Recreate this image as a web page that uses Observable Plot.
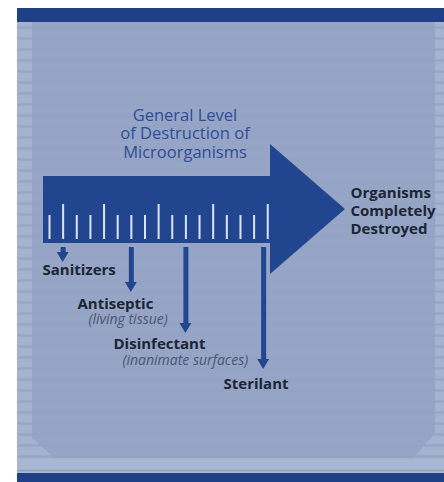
<!DOCTYPE html>
<html><head><meta charset="utf-8">
<script src="https://cdn.jsdelivr.net/npm/d3@7"></script>
<script src="https://cdn.jsdelivr.net/npm/@observablehq/plot@0.6"></script>
<style>html,body{margin:0;padding:0;background:#fff;} svg{display:block}</style>
</head><body><div id="chart"></div>
<script>
// ---- data ----
const titleLines = ["General Level", "of Destruction of", "Microorganisms"];
const endLines = ["Organisms", "Completely", "Destroyed"];
const tickLevels = [0,1,2,3,4,5,6,7,8,9,10,11,12,13,14,15,16];
const majorTicks = [1,4,8,12,16];
const agents = ["Sanitizers", "Antiseptic", "Disinfectant", "Sterilant"];
const agentNotes = ["", "(living tissue)", "(inanimate surfaces)", ""];
const agentLevels = [1, 6, 10, 15.7];

// ---- layout (pixel geometry) ----
const W = 444, H = 482;
const lvl = l => 49 + l * 13.64;
const tipY = [262, 292, 333, 369];
const labelX = [42, 77, 113, 223], labelY = [274, 308, 348, 388];
const noteX = [0, 88, 122, 0], noteY = [0, 323, 364, 0];
const navy = "#1f3f87", arrowC = "#21468f";

const stripes = d3.range(27, 470, 11).map(y => ({y}));
const panel = [
  {x: 32, y1: 22, y2: 438},
  {x: 55, y1: 22, y2: 458},
  {x: 413, y1: 22, y2: 458},
  {x: 435, y1: 22, y2: 433}
];
const head = [{x: 270, y1: 144, y2: 274}, {x: 345, y1: 209, y2: 209}];
const ticks = tickLevels.map(t => ({x: lvl(t), top: majorTicks.includes(t) ? 204 : 215}));
const downs = agents.map((a, i) => ({name: a, x: lvl(agentLevels[i]), tip: tipY[i]}));
const heads = downs.flatMap(d => [
  {z: d.name, x: d.x - 6, y1: d.tip - 10, y2: d.tip - 10},
  {z: d.name, x: d.x, y1: d.tip - 10, y2: d.tip},
  {z: d.name, x: d.x + 6, y1: d.tip - 10, y2: d.tip - 10}
]);
const labels = agents.map((a, i) => ({t: a, x: labelX[i], y: labelY[i]}));
const notes = agentNotes.map((n, i) => ({t: n, x: noteX[i], y: noteY[i]})).filter(d => d.t);

const font = "Open Sans";
const chart = Plot.plot({
  width: W, height: H, margin: 0,
  x: {domain: [0, W], range: [0, W], axis: null},
  y: {domain: [0, H], range: [0, H], axis: null},
  marks: [
    Plot.rect([{}], {x1: 17, x2: W, y1: 8, y2: H, fill: "#a5b3d1"}),
    Plot.ruleY(stripes, {y: "y", x1: 17, x2: W, stroke: "#8b9aba", strokeWidth: 2.5, strokeOpacity: 0.5}),
    Plot.areaY(panel, {x: "x", y1: "y1", y2: "y2", curve: "linear", fill: "#95a4c4", fillOpacity: 0.94}),
    Plot.rect([{}], {x1: 17, x2: W, y1: 459, y2: 473, fill: "#a9b7d4"}),
    Plot.ruleY([470], {x1: 17, x2: W, stroke: "#92a1c0", strokeWidth: 1.5}),
    Plot.rect([{}], {x1: 17, x2: W, y1: 8, y2: 22, fill: navy}),
    Plot.rect([{}], {x1: 17, x2: W, y1: 473, y2: H, fill: navy}),
    // main arrow
    Plot.rect([{}], {x1: 43, x2: 271, y1: 176, y2: 243, fill: arrowC}),
    Plot.areaY(head, {x: "x", y1: "y1", y2: "y2", curve: "linear", fill: arrowC}),
    Plot.ruleX(ticks, {x: "x", y1: "top", y2: 239, stroke: "#dde4f2", strokeWidth: 2}),
    // down arrows
    Plot.ruleX(downs, {x: "x", y1: 247, y2: d => d.tip - 9, stroke: arrowC, strokeWidth: 5}),
    Plot.areaY(heads, {x: "x", y1: "y1", y2: "y2", z: "z", curve: "linear", fill: arrowC}),
    // texts
    Plot.text([titleLines.join("\n")], {x: 184.5, y: 157, text: d => d, lineAnchor: "bottom", lineHeight: 1.1,
      fontFamily: font, fontSize: 16.5, fill: "#2e4d97", textAnchor: "middle"}),
    Plot.text([endLines.join("\n")], {x: 350, y: 233, text: d => d, lineAnchor: "bottom", lineHeight: 1.17,
      fontFamily: font, fontSize: 15, fontWeight: "bold", fill: "#1c2535", textAnchor: "start"}),
    Plot.text(labels, {x: "x", y: "y", text: "t", lineAnchor: "bottom", fontFamily: font, fontSize: 15,
      fontWeight: "bold", fill: "#1c2535", textAnchor: "start"}),
    Plot.text(notes, {x: "x", y: "y", text: "t", lineAnchor: "bottom", fontFamily: font, fontSize: 14,
      fontStyle: "italic", fill: "#4b5670", textAnchor: "start"})
  ]
});
document.getElementById("chart").appendChild(chart);
</script>
</body></html>
